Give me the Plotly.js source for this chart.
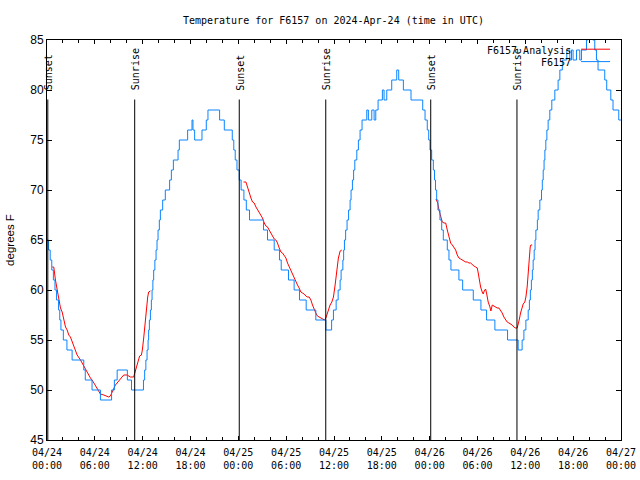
<!DOCTYPE html>
<html>
<head>
<meta charset="utf-8">
<script src="https://cdn.plot.ly/plotly-3.0.1.min.js"></script>
<style>html,body{margin:0;padding:0;background:#fff;}#chart{width:640px;height:480px;}</style>
</head>
<body>
<div id="chart"></div>
<script>
// Hours since 2024-04-24 00:00 UTC
var obsHours = [0,0.2,0.4,0.6,0.8,1.0,1.2,1.45,1.6,1.75,2.05,2.5,3.15,4.61,4.8,5.65,6.7,8.1,8.45,8.8,10.08,10.6,
 12.1,12.25,12.4,12.55,12.68,12.75,12.84,12.97,13.09,13.18,13.28,13.38,13.53,13.68,13.80,13.93,14.09,14.22,14.51,14.84,
 15.38,15.60,15.85,16.44,16.60,17.64,18.19,18.31,18.52,19.44,19.98,20.19,21.65,22.24,23.24,23.43,23.61,23.83,24.11,
 24.35,24.7,25.0,25.4,27.16,27.66,28.50,29.16,29.38,30.29,31.00,31.67,32.51,33.72,34.98,35.70,35.93,36.27,36.52,36.77,
 36.89,37.11,37.21,37.31,37.46,37.64,37.83,38.02,38.14,38.31,38.46,38.61,38.86,39.06,39.27,39.52,40.11,40.31,40.74,
 41.03,41.24,41.53,42.07,42.28,42.62,43.24,43.87,44.12,44.70,45.66,47.13,47.42,47.70,47.88,48.04,48.25,48.46,48.61,
 48.73,48.88,49.04,49.29,49.51,49.71,50.21,50.42,50.67,51.67,52.14,53.47,54.43,55.14,56.18,57.77,59.10,59.60,59.82,
 60.07,60.36,60.51,60.63,60.76,60.88,60.98,61.11,61.22,61.32,61.51,61.61,61.82,62.03,62.13,62.24,62.35,62.45,62.57,
 62.70,62.86,63.07,63.32,63.70,64.11,64.33,64.64,65.20,65.58,65.79,65.99,66.42,66.83,67.04,67.67,67.83,68.46,68.71,
 68.92,69.12,69.96,70.21,70.72,71.00,71.72,72.0];
var obsTemps = [65,64,63,62,61,60,59,58,57,56,55,54,53,52,51,50,49,50,51,52,51,50,
 51,52,53,54,55,56,57,58,59,60,61,62,63,64,65,66,67,68,69,70,
 71,72,73,74,75,76,77,76,75,76,77,78,77,76,75,74,73,72,71,
 70,69,68,67,66,65,64,63,62,61,60,59,58,57,56,57,58,59,60,61,
 62,63,64,65,66,67,68,69,70,71,72,73,74,75,76,77,78,77,78,
 77,78,79,80,79,80,81,82,81,80,79,78,77,76,75,74,73,72,71,
 70,69,68,67,66,65,64,63,62,61,60,59,58,57,56,55,54,55,56,
 57,58,59,60,61,62,63,64,65,66,67,68,69,70,71,72,73,74,75,
 76,77,78,79,80,81,82,83,84,83,84,83,84,83,84,85,86,85,84,
 83,82,81,80,79,78,77,77];

var anaHours = [0.65,0.85,1.06,1.28,1.48,1.69,1.90,2.10,2.32,2.53,2.73,2.94,3.16,3.36,3.57,3.78,4.20,4.41,4.61,4.82,
 5.04,5.24,5.45,5.66,5.86,6.08,6.29,6.49,6.70,7.12,7.54,7.74,7.95,8.17,8.37,8.58,8.79,8.99,9.21,9.42,9.62,10.05,10.25,
 10.46,10.87,11.00,11.21,11.42,11.62,11.84,11.96,12.13,12.25,12.38,12.46,12.63,12.75,12.97, null,
 24.65,24.95,25.15,25.36,25.58,25.78,25.99,26.21,26.41,26.62,26.83,27.03,27.25,27.46,27.66,27.87,28.09,28.29,28.50,
 28.71,28.91,29.13,29.34,29.54,29.75,29.97,30.17,30.38,30.59,30.79,31.00,31.22,31.42,31.63,31.84,32.04,32.26,32.47,
 32.67,32.88,33.10,33.30,33.51,33.72,33.92,34.14,34.35,34.55,34.80,34.98,35.10,35.30,35.51,35.73,35.93,36.14,36.27,
 36.43,36.55,36.77,36.98, null,
 48.79,49.01,49.17,49.38,49.58,49.80,50.01,50.21,50.42,50.63,50.84,51.05,51.26,51.46,51.67,51.89,52.09,52.30,52.51,
 52.71,52.93,53.14,53.34,53.55,53.77,53.97,54.09,54.22,54.39,54.59,54.72,54.84,55.02,55.18,55.34,55.56,55.68,55.85,
 56.06,56.27,56.47,56.69,56.90,57.10,57.31,57.52,57.72,57.94,58.15,58.35,58.56,58.77,58.98,59.10,59.23,59.40,59.57,
 59.73,59.94,60.07,60.23,60.36,60.48,60.61,60.69,60.86];
var anaTemps = [62.3,62.3,61.0,60.0,59.0,58.2,57.8,57.0,56.3,56.0,55.5,55.3,54.8,54.3,53.8,53.5,53.0,52.7,52.3,52.0,
 51.7,51.5,51.2,51.0,50.7,50.5,50.2,49.8,49.6,49.5,49.4,49.3,49.4,49.8,50.2,50.5,50.7,50.9,51.1,51.3,51.5,51.5,51.4,
 51.3,51.3,51.7,52.3,52.8,53.4,53.5,54.0,55.2,56.2,57.2,58.3,59.3,59.8,59.9, null,
 70.8,70.8,70.3,69.7,69.2,68.8,68.7,68.3,68.0,67.7,67.5,67.2,66.7,66.4,66.3,66.0,65.7,65.3,65.1,
 65.0,64.7,64.2,63.8,63.7,63.5,63.2,62.7,62.3,62.0,61.7,61.3,60.8,60.5,60.2,59.8,59.7,59.6,59.4,
 59.3,59.3,59.0,58.5,58.0,57.7,57.4,57.3,57.2,57.1,57.0,57.2,57.5,58.0,58.5,58.8,59.3,60.5,61.3,
 62.3,63.2,63.9,64.0, null,
 69.1,68.7,68.0,67.3,66.8,66.7,66.7,66.0,65.3,64.7,64.5,64.3,64.0,63.5,63.2,63.1,63.0,62.9,62.8,
 62.8,62.7,62.7,62.5,62.4,62.3,62.2,61.7,61.0,60.3,59.8,59.6,59.9,60.1,59.5,58.8,58.3,57.9,58.5,
 58.4,58.3,58.2,58.2,58.0,57.7,57.3,57.0,56.8,56.7,56.6,56.5,56.3,56.2,56.2,56.5,57.0,57.7,58.2,
 58.6,58.8,59.3,60.3,61.8,62.8,64.3,64.5,64.5];

var sunsetTimes = ['2024-04-24 00:06','2024-04-25 00:07','2024-04-26 00:08'];
var sunriseTimes = ['2024-04-24 11:00','2024-04-25 10:58','2024-04-26 10:57'];

var xTickVals = ['2024-04-24 00:00','2024-04-24 06:00','2024-04-24 12:00','2024-04-24 18:00',
 '2024-04-25 00:00','2024-04-25 06:00','2024-04-25 12:00','2024-04-25 18:00',
 '2024-04-26 00:00','2024-04-26 06:00','2024-04-26 12:00','2024-04-26 18:00','2024-04-27 00:00'];
var xTickText = ['04/24<br>00:00','04/24<br>06:00','04/24<br>12:00','04/24<br>18:00',
 '04/25<br>00:00','04/25<br>06:00','04/25<br>12:00','04/25<br>18:00',
 '04/26<br>00:00','04/26<br>06:00','04/26<br>12:00','04/26<br>18:00','04/27<br>00:00'];

var seriesNames = ['F6157 Analysis','F6157'];
var seriesColors = ['#ff0000','#0a84ff'];

var base = Date.UTC(2024,3,24,0,0,0);
function toDate(h){
  if (h === null) return null;
  var d = new Date(base + Math.round(h*3600000));
  return d.toISOString().slice(0,19).replace('T',' ');
}

var mono = 'DejaVu Sans Mono, monospace';
var sans = 'Liberation Sans, Arial, sans-serif';

var traces = [
  {x: anaHours.map(toDate), y: anaTemps, type:'scatter', mode:'lines', name: seriesNames[0],
   line:{color: seriesColors[0], width:1}, connectgaps:false, showlegend:false, hoverinfo:'skip'},
  {x: obsHours.map(toDate), y: obsTemps, type:'scatter', mode:'lines', name: seriesNames[1],
   line:{color: seriesColors[1], width:1, shape:'hv'}, showlegend:false, hoverinfo:'skip'}
];

var shapes = [];
var annotations = [];
function sunMark(t, label){
  shapes.push({type:'line', xref:'x', yref:'y', x0:t, x1:t, y0:45, y1:79.05,
    line:{color:'#000', width:1}, layer:'above'});
  annotations.push({x:t, y:79.75, xref:'x', yref:'y', text:label, textangle:-90, showarrow:false,
    xanchor:'center', yanchor:'bottom', xshift:1, font:{family:mono, size:10, color:'#000'}});
}
sunsetTimes.forEach(function(t){ sunMark(t,'Sunset'); });
sunriseTimes.forEach(function(t){ sunMark(t,'Sunrise'); });

// gnuplot-style key: text then line sample
var keyY = [0.975, 0.944];
seriesNames.forEach(function(n,i){
  annotations.push({xref:'paper', yref:'paper', x:0.9165, y:keyY[i], text:n, showarrow:false,
    xanchor:'right', yanchor:'middle', font:{family:mono, size:10, color:'#000'}});
  shapes.push({type:'line', xref:'paper', yref:'paper', x0:0.9304, x1:0.9809, y0:keyY[i]+0.002, y1:keyY[i]+0.002,
    line:{color: seriesColors[i], width:1}});
});

var layout = {
  width:640, height:480,
  margin:{l:46.5, r:19, t:40, b:40},
  paper_bgcolor:'#fff', plot_bgcolor:'#fff',
  showlegend:false,
  title:{text:'Temperature for F6157 on 2024-Apr-24 (time in UTC)', x:0.521, xanchor:'center',
    y:1-20/480, yanchor:'middle', yref:'container', font:{family:mono, size:10, color:'#000'}},
  xaxis:{type:'date', range:['2024-04-24 00:00','2024-04-27 00:00'], tickmode:'array',
    tickvals:xTickVals, ticktext:xTickText, ticks:'inside', ticklen:4, tickcolor:'#000',
    ticklabelstandoff:3,
    minor:{dtick:7200000, tick0:'2024-04-24 00:00', ticks:'inside', ticklen:3, tickcolor:'#000'},
    showline:true, linecolor:'#000', linewidth:1, mirror:'ticks', showgrid:false, zeroline:false,
    tickfont:{family:mono, size:10, color:'#000'}},
  yaxis:{range:[45,85], tickmode:'linear', tick0:45, dtick:5, ticks:'inside', ticklen:5, tickcolor:'#000',
    showline:true, linecolor:'#000', linewidth:1, mirror:'ticks', showgrid:false, zeroline:false,
    tickfont:{family:sans, size:12, color:'#000'},
    title:{text:'degrees F', standoff:13, font:{family:sans, size:11.5, color:'#000'}}},
  shapes:shapes,
  annotations:annotations
};

Plotly.newPlot('chart', traces, layout, {displayModeBar:false, staticPlot:true});
</script>
</body>
</html>
